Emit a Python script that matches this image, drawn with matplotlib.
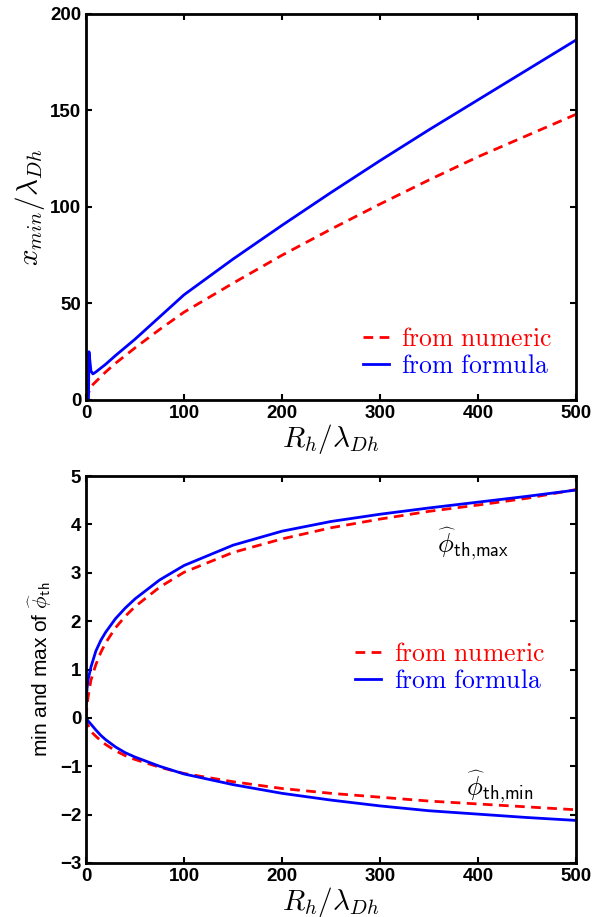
import matplotlib.pyplot as plt

plt.rcParams['mathtext.fontset'] = 'cm'
plt.rcParams['font.family'] = 'Liberation Sans'

# x_min / lambda_Dh versus R_h / lambda_Dh
r_top_num = [0, 5, 10, 20, 30, 50, 75, 100, 150, 200, 250, 300, 350, 400, 450, 500]
x_min_num = [0, 7, 9.5, 14.5, 19, 27, 36.5, 45.5, 60.5, 75, 88.5, 101.5, 114, 126, 137, 148]
r_top_form = [2.5, 3, 5, 7, 10, 20, 30, 50, 75, 100, 150, 200, 250, 300, 350, 400, 450, 500]
x_min_form = [0, 25, 15, 13.5, 14.5, 18.5, 23, 31.5, 43, 54.5, 73, 90.5, 107.5, 124, 140, 155.5, 171, 186.5]

# extremes of the normalised potential
r_bot = [0, 1, 2, 5, 10, 15, 20, 30, 40, 50, 75, 100, 150, 200, 250, 300, 350, 400, 450, 500]
phi_max_form = [0.3, 0.6, 0.78, 1.05, 1.38, 1.6, 1.77, 2.05, 2.27, 2.46, 2.85, 3.15, 3.57, 3.86,
                4.06, 4.21, 4.34, 4.46, 4.58, 4.71]
phi_max_num = [0, 0.25, 0.42, 0.78, 1.1, 1.35, 1.55, 1.86, 2.1, 2.3, 2.7, 3.01, 3.42, 3.7,
               3.93, 4.11, 4.27, 4.4, 4.54, 4.72]
phi_min_form = [0, -0.03, -0.06, -0.13, -0.25, -0.36, -0.45, -0.6, -0.72, -0.81, -1.0, -1.16,
                -1.38, -1.56, -1.7, -1.82, -1.92, -1.99, -2.06, -2.12]
phi_min_num = [0, -0.1, -0.15, -0.28, -0.38, -0.47, -0.55, -0.68, -0.78, -0.86, -1.02, -1.15,
               -1.32, -1.46, -1.56, -1.64, -1.72, -1.78, -1.84, -1.9]

lbl_num = r'$\mathrm{from\ numeric}$'
lbl_form = r'$\mathrm{from\ formula}$'
dash = (0, (3.5, 2.3))


def style(ax):
    for s in ax.spines.values():
        s.set_linewidth(2)
    ax.tick_params(direction='in', top=True, right=True, length=4, width=1.5,
                   labelsize=13.5)
    for t in ax.get_xticklabels() + ax.get_yticklabels():
        t.set_fontweight('bold')
    ax.set_xlim(0, 500)
    ax.set_xticks([0, 100, 200, 300, 400, 500])
    ax.set_xlabel(r'$R_h/\lambda_{Dh}$', fontsize=21, labelpad=0)


def add_legend(ax, x, y):
    leg = ax.legend(loc='upper left', bbox_to_anchor=(x, y), frameon=False,
                    fontsize=18.5, handlelength=1.0, handletextpad=0.5,
                    labelspacing=0.12, borderpad=0, borderaxespad=0)
    for txt, c in zip(leg.get_texts(), ['red', 'blue']):
        txt.set_color(c)


fig = plt.figure(figsize=(6.11, 9.17), dpi=100)

ax1 = fig.add_axes([0.1408, 0.5638, 0.802, 0.421])
ax1.plot(r_top_num, x_min_num, color='red', lw=2, ls=dash, label=lbl_num)
ax1.plot(r_top_form, x_min_form, color='blue', lw=2, label=lbl_form)
ax1.set_ylim(0, 200)
ax1.set_yticks([0, 50, 100, 150, 200])
ax1.set_ylabel(r'$x_{min}/\lambda_{Dh}$', fontsize=21, labelpad=2)
style(ax1)
add_legend(ax1, 0.565, 0.19)

ax2 = fig.add_axes([0.1408, 0.0589, 0.802, 0.422])
ax2.plot(r_bot, phi_max_num, color='red', lw=2, ls=dash, label=lbl_num)
ax2.plot(r_bot, phi_max_form, color='blue', lw=2, label=lbl_form)
ax2.plot(r_bot, phi_min_num, color='red', lw=2, ls=dash)
ax2.plot(r_bot, phi_min_form, color='blue', lw=2)
ax2.set_ylim(-3, 5)
ax2.set_yticks(range(-3, 6))
ax2.set_ylabel(r'min and max of $\widehat{\phi}_{\mathsf{th}}$', fontsize=15, labelpad=4)
style(ax2)
ax2.text(358, 3.42, r'$\widehat{\phi}_{\mathsf{th{,}max}}$', fontsize=19)
ax2.text(388, -1.6, r'$\widehat{\phi}_{\mathsf{th{,}min}}$', fontsize=19)
add_legend(ax2, 0.549, 0.572)

fig.savefig('out.png', dpi=100)
